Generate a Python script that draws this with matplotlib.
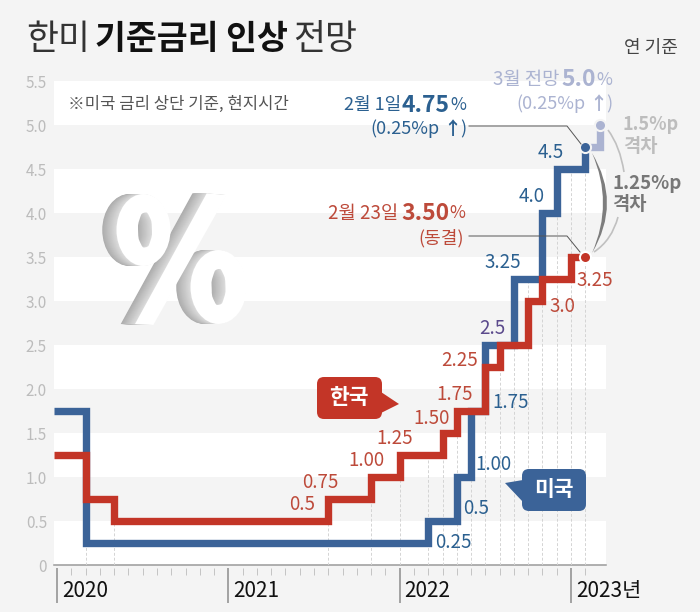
import matplotlib
matplotlib.use('Agg')
import matplotlib.pyplot as plt
from matplotlib.lines import Line2D
from matplotlib.patches import FancyBboxPatch, PathPatch, Polygon
from matplotlib.path import Path
from matplotlib.transforms import Affine2D

W, H = 700, 612
plt.rcParams['font.family'] = ['Noto Sans CJK KR', 'DejaVu Sans']

# x는 2020년 1월부터의 개월 수
us_months = [-0.2, 2, 26, 28, 29, 30, 32, 34, 35, 37]
us_rates = [1.75, 0.25, 0.5, 1.0, 1.75, 2.5, 3.25, 4.0, 4.5, 4.75]
kr_months = [-0.2, 2, 4, 19, 22, 24, 27, 28, 30, 31, 33, 34, 36, 37]
kr_rates = [1.25, 0.75, 0.5, 0.75, 1.0, 1.25, 1.5, 1.75, 2.25, 2.5, 3.0, 3.25, 3.5, 3.5]
forecast_months = [37, 38, 38]
forecast_rates = [4.75, 4.75, 5.0]

dash_months = [2, 4, 19, 22, 24, 26, 27, 28, 29, 30, 31, 32, 33, 34, 35, 36, 37]
year_months = [0, 12, 24, 36]
year_labels = ['2020', '2021', '2022', '2023년']
y_ticks = [0, 0.5, 1, 1.5, 2, 2.5, 3, 3.5, 4, 4.5, 5, 5.5]
y_labels = ['0', '0.5', '1.0', '1.5', '2.0', '2.5', '3.0', '3.5', '4.0', '4.5', '5.0', '5.5']
white_bands = [(0, 0.5), (1, 1.5), (2, 2.5), (3, 3.5), (4, 4.5), (5, 5.5)]

# 라벨: 글자, 개월, 금리, 점에서의 픽셀 간격
kr_value_labels = [
    ('0.75', 19, 0.75, -8, 16), ('0.5', 19, 0.5, -26, 16), ('1.00', 22, 1.0, -5, 17),
    ('1.25', 24, 1.25, -5, 16), ('1.50', 27, 1.5, -11, 15), ('1.75', 28, 1.75, -2, 16),
    ('2.25', 30, 2.25, -26, 7), ('3.0', 33, 3.0, 34, -6), ('3.25', 36, 3.25, 24, -2),
]
us_value_labels = [
    ('0.25', 26, 0.25, 25, 0), ('0.5', 28, 0.5, 19, 13), ('1.00', 29, 1.0, 22, 12),
    ('1.75', 30, 1.75, 25, 8), ('3.25', 32, 3.25, -11, 17),
    ('4.0', 34, 4.0, -11, 16), ('4.5', 35, 4.5, -6, 16),
]

BG = '#f4f4f4'
BLUE = '#3b6398'
RED = '#c33527'
BLUE_TXT = '#2b6090'
RED_TXT = '#bd4a3a'
LIGHT = '#abb3d1'
VALUE_SIZE = 13.5


def step_top(months, rates, m):
    top = rates[0]
    for mm, r in zip(months, rates):
        if mm <= m:
            top = r
    return top


fig = plt.figure(figsize=(W / 100, H / 100), dpi=100, facecolor=BG)
ax = fig.add_axes([54 / W, (H - 565) / H, 552 / W, 484 / H])
ax.set_xlim(-0.21, 38.45)
ax.set_ylim(0, 5.5)
ax.set_facecolor(BG)
for side in ['top', 'left', 'right']:
    ax.spines[side].set_visible(False)
ax.spines['bottom'].set_position(('outward', 2.2))
ax.spines['bottom'].set_visible(False)

for lo, hi in white_bands:
    ax.axhspan(lo, hi, color='white', lw=0, zorder=0)
ax.axhline(0, color='#9a9a9a', lw=1.1, zorder=1, clip_on=False)

ax.set_yticks(y_ticks)
ax.set_yticklabels(y_labels, fontsize=11, color='#bcbcbc')
ax.tick_params(axis='y', length=0, pad=5)
ax.set_xticks(year_months)
ax.set_xticklabels([])
ax.set_xticks(range(38), minor=True)
ax.tick_params(axis='x', which='major', length=25, width=1.1, color='#8c8c8c')
ax.tick_params(axis='x', which='minor', length=5, width=0.7, color='#c4c4c4')

for m in dash_months:
    top = max(step_top(us_months, us_rates, m), step_top(kr_months, kr_rates, m))
    if m == 37:
        top = 4.5
    ax.plot([m, m], [0, top], color='#d4d4d4', lw=0.7, ls=(0, (3, 2)), zorder=1)

style = dict(lw=5.3, drawstyle='steps-post', solid_joinstyle='miter', solid_capstyle='butt', clip_on=False)
ax.plot(forecast_months, forecast_rates, color=LIGHT, zorder=2, **style)
ax.plot(us_months, us_rates, color=BLUE, zorder=3, **style)
ax.plot(kr_months, kr_rates, color=RED, zorder=4, **style)

ax.plot(38, 5.0, 'o', ms=8, color=LIGHT, mec=BG, mew=1.5, zorder=5, clip_on=False)
ax.plot(37, 4.75, 'o', ms=8, color=BLUE, mec=BG, mew=1.5, zorder=5, clip_on=False)
ax.plot(37, 3.5, 'o', ms=8, color=RED, mec='white', mew=1.5, zorder=5, clip_on=False)

for text, m, r, dx, dy in kr_value_labels:
    ax.annotate(text, (m, r), xytext=(dx, dy), textcoords='offset pixels', ha='center', va='center',
                fontsize=VALUE_SIZE, color=RED_TXT, zorder=6)
for text, m, r, dx, dy in us_value_labels:
    ax.annotate(text, (m, r), xytext=(dx, dy), textcoords='offset pixels', ha='center', va='center',
                fontsize=VALUE_SIZE, color=BLUE_TXT, zorder=6)
ax.annotate('2.5', (30, 2.5), xytext=(7, 16), textcoords='offset pixels', ha='center', va='center',
            fontsize=VALUE_SIZE, color='#5b4a8c', zorder=6)

for m, label_text in zip(year_months, year_labels):
    ax.annotate(label_text, (m, 0), xytext=(5, -26), textcoords='offset pixels', ha='left', va='center',
                fontsize=15, color='#111111', annotation_clip=False)


# 그림 위쪽 장식은 픽셀 좌표(위에서 아래로)로 그린다
px = Affine2D().scale(1, -1).translate(0, H)


def label(x, y, s, **kw):
    kw.setdefault('va', 'center')
    fig.text(x / W, 1 - y / H, s, **kw)


label(26, 40, '한미', fontsize=25, fontweight='light', color='#333333')
label(95, 40, '기준금리 인상', fontsize=24.2, fontweight='bold', color='#111111')
label(293, 40, '전망', fontsize=25, fontweight='light', color='#333333')
label(678, 48, '연 기준', fontsize=13, ha='right', color='#444444')
label(68, 104, '※미국 금리 상단 기준, 현지시간', fontsize=12, color='#555555')

# 2월 1일 미국
label(401, 105, '2월 1일', fontsize=13, ha='right', color=BLUE_TXT)
label(449, 105, '4.75', fontsize=16.5, ha='right', fontweight='bold', color=BLUE_TXT)
label(466, 105, '%', fontsize=12.5, ha='right', color=BLUE_TXT)
label(439, 129, '(0.25%p', fontsize=13, ha='right', color=BLUE_TXT)
label(452, 129, '↑', fontsize=13, ha='center', fontweight='bold', color=BLUE_TXT)
label(466, 129, ')', fontsize=13, ha='right', color=BLUE_TXT)
# 3월 전망
label(559, 80, '3월 전망', fontsize=13.5, ha='right', color=LIGHT)
label(596, 80, '5.0', fontsize=16.5, ha='right', fontweight='bold', color=LIGHT)
label(612, 80, '%', fontsize=12.5, ha='right', color=LIGHT)
label(586, 104, '(0.25%p', fontsize=13, ha='right', color=LIGHT)
label(598, 104, '↑', fontsize=13, ha='center', fontweight='bold', color=LIGHT)
label(612, 104, ')', fontsize=13, ha='right', color=LIGHT)
# 2월 23일 한국
label(398, 213, '2월 23일', fontsize=13.5, ha='right', color=RED_TXT)
label(449, 213, '3.50', fontsize=16.5, ha='right', fontweight='bold', color=RED_TXT)
label(465, 213, '%', fontsize=12.5, ha='right', color=RED_TXT)
label(464, 238, '(동결)', fontsize=13, ha='right', color=RED_TXT)
# 격차
label(623, 125, '1.5%p', fontsize=13, fontweight='bold', color='#bdbdbd')
label(623, 146, '격차', fontsize=13.5, fontweight='bold', color='#bdbdbd')
label(612, 183, '1.25%p', fontsize=13.5, fontweight='bold', color='#777777')
label(612, 205, '격차', fontsize=13.5, fontweight='bold', color='#777777')

# 지시선
for xs, ys in [([469, 567, 581], [126, 126, 144]), ([469, 567, 580], [236, 236, 252])]:
    fig.add_artist(Line2D(xs, ys, color='#555555', lw=0.7, transform=px))

# 격차 호
crescent = Path([(592, 153), (622, 203), (592, 253), (614, 203), (592, 153)],
                [Path.MOVETO, Path.CURVE3, Path.CURVE3, Path.CURVE3, Path.CURVE3])
fig.add_artist(PathPatch(crescent, facecolor='#7d7d7d', edgecolor='none', transform=px))
for pts, col in [([(608, 130), (620, 146), (624, 172)], '#c0c0c0'),
                 ([(594, 252), (612, 240), (618, 217)], '#c0c0c0')]:
    arc = Path(pts, [Path.MOVETO, Path.CURVE3, Path.CURVE3])
    fig.add_artist(PathPatch(arc, facecolor='none', edgecolor=col, lw=1.2, transform=px))

# 말풍선
fig.add_artist(FancyBboxPatch((317, 377), 65, 42, boxstyle='round,pad=0,rounding_size=7',
                              facecolor=RED, edgecolor='none', transform=px))
fig.add_artist(Polygon([(381, 392), (399, 404), (381, 413)], facecolor=RED, edgecolor='none', transform=px))
label(349, 398, '한국', fontsize=15.5, fontweight='bold', color='white', ha='center')
fig.add_artist(FancyBboxPatch((522, 469), 64, 42, boxstyle='round,pad=0,rounding_size=7',
                              facecolor=BLUE, edgecolor='none', transform=px))
fig.add_artist(Polygon([(523, 480), (505, 483), (523, 502)], facecolor=BLUE, edgecolor='none', transform=px))
label(554, 490, '미국', fontsize=15.5, fontweight='bold', color='white', ha='center')


# 입체 % 기호: 타원 고리 두 개와 사선
def ring(cx, cy, rx, ry, hx, hy, hole_dx=0.0):
    circle = Path.unit_circle()
    outer = circle.transformed(Affine2D().scale(rx, ry).translate(cx, cy))
    inner = circle.transformed(Affine2D().scale(hx, hy).translate(cx + hole_dx, cy))
    inner = Path(inner.vertices[::-1], inner.codes)
    return Path.make_compound_path(outer, inner)


percent_parts = [
    ring(143.5, 230, 27, 36, 7, 17.5, 1.5),
    ring(218.5, 287, 28, 37, 7, 18),
    Path([(206.7, 193.3), (226.7, 195), (153.3, 325), (135, 324), (206.7, 193.3)], closed=True),
]
n = 15
for i in range(n, 0, -1):
    g = 0.68 + 0.19 * (n - i) / n
    for part in percent_parts:
        t = Affine2D().translate(-i * 0.95, 0) + px
        fig.add_artist(PathPatch(part, facecolor=(g, g, g), edgecolor='none', transform=t))
for part in percent_parts:
    fig.add_artist(PathPatch(part, facecolor='white', edgecolor='none', transform=px))

fig.savefig('out.png', dpi=100, facecolor=BG)
